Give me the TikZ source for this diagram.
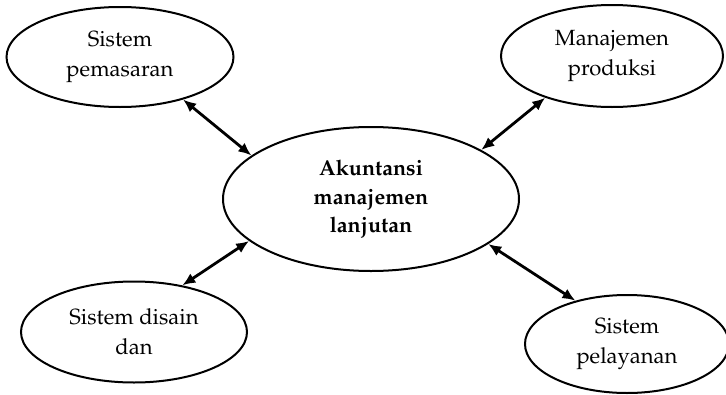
\documentclass[tikz,border=0pt]{standalone}
\usepackage[T1]{fontenc}
\usepackage{mathpazo}
\usetikzlibrary{shapes.geometric,arrows.meta}

\tikzset{
  topic/.style={ellipse, draw, line width=2pt, inner sep=0pt, align=center,
                font=\fontsize{22}{30}\selectfont},
  link/.style={{Latex[length=13pt,width=11pt]}-{Latex[length=13pt,width=11pt]}, line width=2.8pt}
}

\begin{document}
\begin{tikzpicture}[x=1pt,y=-1pt]
  \useasboundingbox (0,0) rectangle (726,394);

  % centre ellipse
  \node[topic, minimum width=296pt, minimum height=144pt,
        font=\bfseries\fontsize{21.5}{28.5}\selectfont] (core) at (371,199)
        {Akuntansi\\manajemen\\lanjutan};

  % surrounding ellipses
  \node[topic, minimum width=227pt, minimum height=100pt] (mkt) at (120,57)
        {Sistem\\pemasaran};
  \node[topic, minimum width=222pt, minimum height=102pt] (prod) at (612,56)
        {Manajemen\\produksi};
  \node[topic, minimum width=226pt, minimum height=101pt] (design) at (134,332)
        {Sistem disain\\dan};
  \node[topic, minimum width=204pt, minimum height=98pt] (serv) at (627,344)
        {Sistem\\pelayanan};

  % two-way links
  \draw[link] (mkt.-34) -- (core.160);
  \draw[link] (prod.212) -- (core.24);
  \draw[link] (design.44) -- (core.199);
  \draw[link] (serv.140) -- (core.-21);
\end{tikzpicture}
\end{document}
